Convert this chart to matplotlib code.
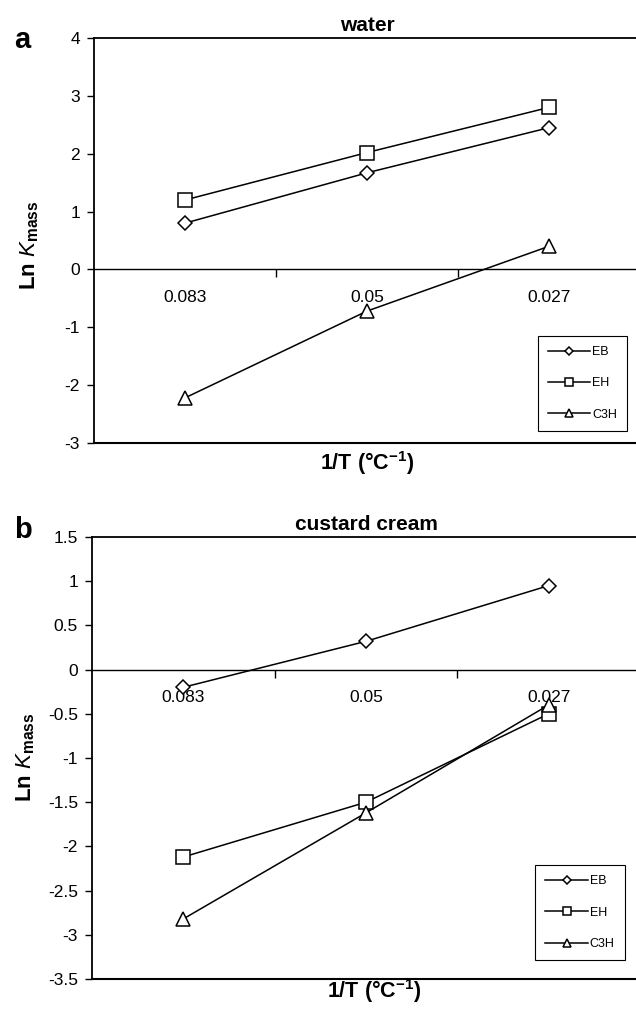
import matplotlib
matplotlib.use("Agg")
import matplotlib.pyplot as plt

# ── Data ──────────────────────────────────────────────────────────────────────
x_labels = ["0.083", "0.05", "0.027"]
series   = ["EB", "EH", "C3H"]

water_eb  = [0.80, 1.67, 2.45]
water_eh  = [1.20, 2.02, 2.80]
water_c3h = [-2.22, -0.72, 0.40]

custard_eb  = [-0.20, 0.32, 0.95]
custard_eh  = [-2.12, -1.50, -0.50]
custard_c3h = [-2.82, -1.62, -0.40]

plt.rcParams["font.family"] = ["Liberation Sans", "DejaVu Sans"]
plt.rcParams["mathtext.fontset"] = "custom"
plt.rcParams["mathtext.rm"] = "Liberation Sans"
plt.rcParams["mathtext.it"] = "Liberation Sans:italic"
plt.rcParams["mathtext.bf"] = "Liberation Sans:bold"

W, H = 636, 1016
fig = plt.figure(figsize=(W / 100, H / 100), dpi=100, facecolor="white")

MARKERS = {"EB": ("D", 7.5), "EH": ("s", 9.5), "C3H": ("^", 9.5)}


def panel(rect, data, ylim, yticks, title):
    ax = fig.add_axes(rect)
    xs = [0.5, 1.5, 2.5]
    for name, ys in zip(series, data):
        m, ms = MARKERS[name]
        ax.plot(xs, ys, color="black", lw=1.1, marker=m, ms=ms,
                mfc="white", mec="black", mew=1.1, label=name, zorder=3)
    ax.set_xlim(0, 3)
    ax.set_ylim(*ylim)
    ax.set_yticks(yticks)
    ax.set_yticklabels([f"{t:g}" for t in yticks])
    ax.tick_params(axis="y", direction="out", length=5, width=1,
                   pad=5, labelsize=12.5)

    # zero line acts as the category axis
    ax.spines["bottom"].set_position(("data", 0))
    ax.spines["bottom"].set_linewidth(1)
    ax.spines["right"].set_visible(False)
    ax.spines["top"].set_linewidth(1.3)
    ax.spines["left"].set_linewidth(1.3)
    ax.axhline(ylim[0], color="black", lw=1.5, clip_on=False, zorder=4)

    ax.set_xticks([1, 2])
    ax.set_xticklabels(["", ""])
    ax.set_xticks(xs, minor=True)
    ax.set_xticklabels(x_labels, minor=True)
    ax.tick_params(axis="x", which="major", direction="out", length=6, width=1)
    ax.tick_params(axis="x", which="minor", length=0, pad=15, labelsize=12.5)

    ax.set_title(title, fontsize=15, fontweight="bold", pad=5)
    return ax


def legend(ax, anchor):
    leg = ax.legend(loc="lower right", bbox_to_anchor=anchor,
                    fontsize=9, markerscale=0.6, handlelength=3.4,
                    labelspacing=1.55, borderpad=0.8, fancybox=False,
                    framealpha=1, edgecolor="black", handletextpad=0.15,
                    borderaxespad=0)
    leg.get_frame().set_linewidth(0.8)


# ── Panel a ───────────────────────────────────────────────────────────────────
ax_a = panel([94 / W, 1 - 443 / H, 546 / W, 405 / H],
             [water_eb, water_eh, water_c3h], (-3, 4),
             [-3, -2, -1, 0, 1, 2, 3, 4], "water")
legend(ax_a, (0.976, 0.030))

# ── Panel b ───────────────────────────────────────────────────────────────────
ax_b = panel([92 / W, 1 - 979 / H, 548 / W, 442 / H],
             [custard_eb, custard_eh, custard_c3h], (-3.5, 1.5),
             [-3.5, -3, -2.5, -2, -1.5, -1, -0.5, 0, 0.5, 1, 1.5],
             "custard cream")
legend(ax_b, (0.972, 0.043))

# ── Axis labels and panel letters ─────────────────────────────────────────────
ylab = r"Ln $\mathit{K}_{\mathbf{mass}}$"
xlab = r"1/T (°C$^{\mathbf{-1}}$)"
fig.text(30 / W, 1 - 245 / H, ylab, rotation=90, ha="center", va="center",
         fontsize=16, fontweight="bold")
fig.text(26 / W, 1 - 757 / H, ylab, rotation=90, ha="center", va="center",
         fontsize=16, fontweight="bold")
fig.text(367 / W, 1 - 463 / H, xlab, ha="center", va="center",
         fontsize=15.5, fontweight="bold")
fig.text(374 / W, 1 - 991 / H, xlab, ha="center", va="center",
         fontsize=15.5, fontweight="bold")
fig.text(22 / W, 1 - 40 / H, "a", ha="center", va="center",
         fontsize=21, fontweight="bold")
fig.text(23 / W, 1 - 530 / H, "b", ha="center", va="center",
         fontsize=21, fontweight="bold")

plt.savefig("out.png", dpi=100, facecolor="white")
plt.close()
